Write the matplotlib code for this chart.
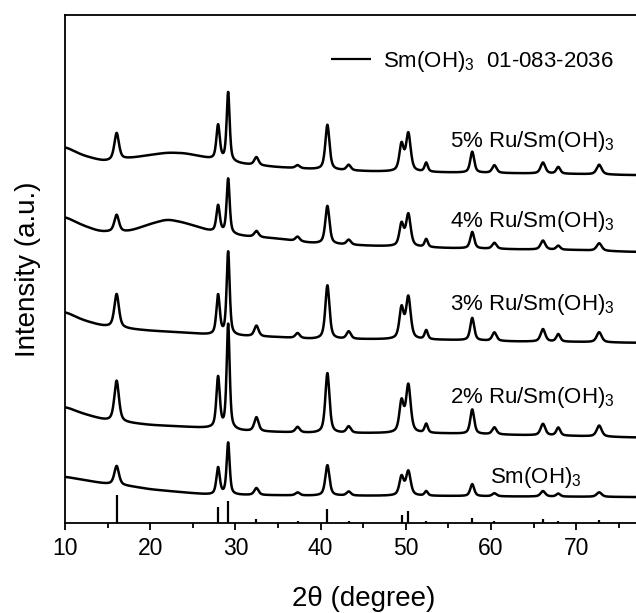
import matplotlib

matplotlib.use("Agg")

import matplotlib.pyplot as plt
import numpy as np


# reflections shared by all samples (2theta, degree) and their widths
PEAK_POS = [16.06, 27.97, 29.15, 32.47, 37.3, 40.8, 43.3, 49.5, 50.3, 52.4, 57.8, 60.4, 66.1, 67.9, 72.7]
PEAK_FWHM = [0.65, 0.48, 0.42, 0.6, 0.6, 0.58, 0.6, 0.6, 0.65, 0.45, 0.55, 0.6, 0.65, 0.55, 0.7]

# background read at these angles (offset included)
BASE_X = [10, 12, 14, 15, 17, 18, 20, 22, 24, 26, 27.3, 31, 35, 39, 42, 46, 55, 63, 70, 76, 80]

BASE_SMOH = [46, 43, 40, 38.7, 37, 36, 33.4, 31.8, 30.2, 28.7, 27.8, 27.6, 27.4, 27, 27, 26.9, 26.7, 26.2, 26, 25.7, 25.5]
BASE_RU2 = [116, 109.4, 104.2, 102, 100.2, 99.4, 97.7, 96.8, 95.9, 94.9, 94.3, 91.5, 90.6, 89.6, 89.4, 89.5, 89.2, 87.7, 86.7, 85.4, 85]
BASE_RU3 = [211, 203, 197.7, 196, 194.3, 193.4, 192, 191, 189.9, 188.6, 187.6, 186.5, 185.5, 183.6, 183.5, 183.4, 182.7, 181.2, 180.8, 180, 179.8]
BASE_RU4 = [306, 297.7, 291.5, 291, 291, 292.7, 298.7, 303.4, 300, 294.4, 291, 286.5, 284, 279.5, 278.2, 276.8, 274.6, 273.4, 272.7, 271, 270.5]
BASE_RU5 = [376, 367.7, 362.7, 361.5, 364, 365, 367.7, 370, 369.5, 366, 363.4, 358.5, 355.5, 353.5, 352.4, 351.3, 350.2, 349.4, 348.7, 347.7, 347.5]

# peak heights above background, same order as PEAK_POS
PEAKS_SMOH = [19, 27, 52, 7, 3, 30.5, 4, 18.6, 24.1, 4.5, 12, 3, 5.5, 3, 4.5]
PEAKS_RU2 = [41, 51, 105, 14, 5.5, 60, 6.5, 30.5, 47.3, 9, 24.5, 7, 11.5, 8, 11]
PEAKS_RU3 = [33.7, 39.7, 83.5, 10.7, 5, 53.7, 7.5, 30.4, 41.7, 9, 22.5, 8.5, 12.5, 7.5, 10]
PEAKS_RU4 = [17, 26.7, 55, 6, 4.5, 38, 5, 22, 32, 8, 16.5, 6, 9, 4, 7.5]
PEAKS_RU5 = [27, 34.7, 69, 8, 3, 45, 5.5, 26.4, 37.6, 9, 21, 7.7, 11, 6.7, 9.7]

SAMPLE_LABELS = [
    "Sm(OH)$_3$",
    "2% Ru/Sm(OH)$_3$",
    "3% Ru/Sm(OH)$_3$",
    "4% Ru/Sm(OH)$_3$",
    "5% Ru/Sm(OH)$_3$",
]

# reference pattern Sm(OH)3 PDF 01-083-2036
REF_POS = [16.06, 27.97, 29.15, 32.47, 37.3, 40.8, 43.3, 49.5, 50.3, 52.4, 57.8, 60.4, 66.1, 67.9, 72.7]
REF_INT = [27.7, 16, 22, 3.4, 1.5, 13.7, 2, 7.5, 12, 2, 4.4, 1.5, 3.7, 1.5, 2.7]
REF_LABEL = "Sm(OH)$_3$  01-083-2036"

XTICKS = [10, 20, 30, 40, 50, 60, 70, 80]
XTICK_LABELS = ["10", "20", "30", "40", "50", "60", "70", ""]

# where the sample names sit (2theta, intensity at text baseline)
LABEL_X = [59.9, 55.2, 55.2, 55.2, 55.2]
LABEL_Y = [39.4, 119.4, 212.7, 296, 376]


def pseudo_voigt(x, center, fwhm, eta=0.6):
    hw = fwhm / 2.0
    lor = 1.0 / (1.0 + ((x - center) / hw) ** 2)
    gau = np.exp(-np.log(2) * ((x - center) / hw) ** 2)
    return eta * lor + (1 - eta) * gau


def smooth_background(x, base, window=1.5):
    y = np.interp(x, BASE_X, base)
    step = x[1] - x[0]
    n = int(window / step) | 1
    pad = n // 2
    padded = np.concatenate([np.full(pad, y[0]), y, np.full(pad, y[-1])])
    return np.convolve(padded, np.ones(n) / n, mode="valid")


def build_pattern(x, base, heights):
    y = smooth_background(x, base)
    for pos, fwhm, h in zip(PEAK_POS, PEAK_FWHM, heights):
        y = y + h * pseudo_voigt(x, pos, fwhm)
    return y


def main():
    plt.rcParams["font.family"] = ["Liberation Sans", "DejaVu Sans"]
    plt.rcParams["mathtext.fontset"] = "custom"
    plt.rcParams["mathtext.rm"] = "Liberation Sans"
    plt.rcParams["mathtext.it"] = "Liberation Sans:italic"

    fig = plt.figure(figsize=(6.36, 6.13), dpi=100)
    # right edge of the frame runs past the picture, as in the source
    ax = fig.add_axes([0.1022, 0.1473, 0.9377, 0.8282])

    x = np.linspace(10, 80, 3501)
    series = [
        (BASE_SMOH, PEAKS_SMOH),
        (BASE_RU2, PEAKS_RU2),
        (BASE_RU3, PEAKS_RU3),
        (BASE_RU4, PEAKS_RU4),
        (BASE_RU5, PEAKS_RU5),
    ]
    for base, heights in series:
        ax.plot(x, build_pattern(x, base, heights), color="black", linewidth=1.8)

    ref = ax.vlines(REF_POS, 0, REF_INT, color="black", linewidth=1.6)

    for label, lx, ly in zip(SAMPLE_LABELS, LABEL_X, LABEL_Y):
        ax.text(lx, ly, label, fontsize=16, ha="left", va="baseline")

    ax.legend(
        [ref],
        [REF_LABEL],
        loc="center left",
        bbox_to_anchor=(331 / 636, 1 - 61.5 / 613),
        bbox_transform=fig.transFigure,
        frameon=False,
        fontsize=16,
        borderpad=0,
        borderaxespad=0,
        handlelength=1.8,
        handletextpad=0.55,
    )

    ax.set_xlim(10, 80)
    ax.set_ylim(0, 507.7)
    ax.set_xticks(XTICKS)
    ax.set_xticklabels(XTICK_LABELS)
    ax.set_xticks(range(15, 80, 10), minor=True)
    ax.set_yticks([])
    ax.tick_params(axis="x", which="major", direction="out", length=5, width=1.3, labelsize=16.5, pad=5)
    ax.tick_params(axis="x", which="minor", direction="out", length=3.5, width=1.3)
    for side in ["left", "bottom", "top", "right"]:
        ax.spines[side].set_linewidth(1.3)

    ax.set_xlabel("2\u03b8 (degree)", fontsize=20, labelpad=19)
    ax.set_ylabel("Intensity (a.u.)", fontsize=20, labelpad=17)

    fig.savefig("out.png", dpi=100)
    plt.close(fig)


if __name__ == "__main__":
    main()
